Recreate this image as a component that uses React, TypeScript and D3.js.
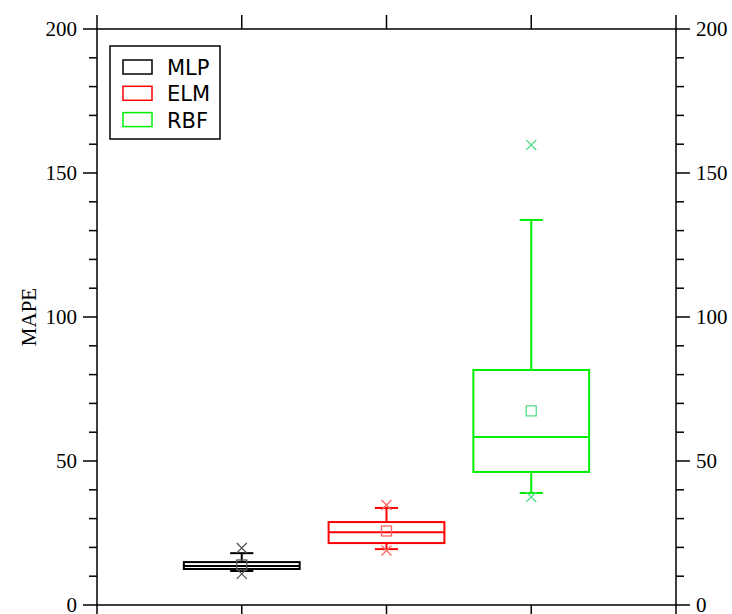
import React from "react";
import * as d3 from "d3";

const categories = ["MLP", "ELM", "RBF"];
const colors = ["#000000", "#ff0000", "#00ee00"];
const markColors = ["#555555", "#ff6666", "#55dd88"];
const q1 = [12.5, 21.5, 46.2];
const median = [13.5, 25.3, 58.3];
const q3 = [14.9, 28.8, 81.6];
const whiskerLow = [11.8, 19.4, 38.9];
const whiskerHigh = [18.0, 33.7, 133.7];
const meanVals = [13.9, 25.7, 67.4];
const minMarks = [10.8, 18.9, 37.5];
const maxMarks = [19.8, 34.7, 159.7];
const yTicks = [0, 50, 100, 150, 200];

const W = 732, H = 614;
const M = { left: 97, right: 676, top: 29, bottom: 605 };

export default function App() {
  const x = d3.scaleLinear().domain([0, 4]).range([M.left, M.right]);
  const y = d3.scaleLinear().domain([0, 200]).range([M.bottom, M.top]);
  const step = x(1) - x(0);
  const boxW = step * 0.8;
  const capW = step * 0.16;
  const minor = d3.range(0, 201, 10).filter((v) => v % 50 !== 0);
  const xt = [0, 1, 2, 3, 4];
  const serif = "'Liberation Serif', serif";
  const sans = "'DejaVu Sans', sans-serif";
  return (
    <svg width={W} height={H} style={{ position: "absolute", left: 0, top: 0, background: "#fff" }}>
      <rect x={M.left} y={M.top} width={M.right - M.left} height={M.bottom - M.top} fill="none" stroke="#000" strokeWidth={1.5} />
      {yTicks.map((t) => (
        <g key={"y" + t}>
          <line x1={M.left - 14} x2={M.left} y1={y(t)} y2={y(t)} stroke="#000" strokeWidth={1.5} />
          <line x1={M.right} x2={M.right + 14} y1={y(t)} y2={y(t)} stroke="#000" strokeWidth={1.5} />
          <text x={M.left - 20} y={y(t)} dy="0.35em" textAnchor="end" fontFamily={serif} fontSize={21}>{t}</text>
          <text x={M.right + 20} y={y(t)} dy="0.35em" textAnchor="start" fontFamily={serif} fontSize={21}>{t}</text>
        </g>
      ))}
      {minor.map((t) => (
        <g key={"m" + t}>
          <line x1={M.left - 8} x2={M.left} y1={y(t)} y2={y(t)} stroke="#000" strokeWidth={1.5} />
          <line x1={M.right} x2={M.right + 8} y1={y(t)} y2={y(t)} stroke="#000" strokeWidth={1.5} />
        </g>
      ))}
      {xt.map((t) => (
        <g key={"x" + t}>
          <line x1={x(t)} x2={x(t)} y1={M.top - 14} y2={M.top} stroke="#000" strokeWidth={1.5} />
          <line x1={x(t)} x2={x(t)} y1={M.bottom} y2={M.bottom + 14} stroke="#000" strokeWidth={1.5} />
        </g>
      ))}
      <text transform={`translate(36,${y(100)}) rotate(-90)`} textAnchor="middle" fontFamily={serif} fontSize={21}>MAPE</text>
      {categories.map((c, i) => {
        const cx = x(i + 1);
        const col = colors[i];
        const mc = markColors[i];
        const s = 5;
        return (
          <g key={c}>
            <line x1={cx} x2={cx} y1={y(q3[i])} y2={y(whiskerHigh[i])} stroke={col} strokeWidth={2} />
            <line x1={cx} x2={cx} y1={y(q1[i])} y2={y(whiskerLow[i])} stroke={col} strokeWidth={2} />
            <line x1={cx - capW / 2} x2={cx + capW / 2} y1={y(whiskerHigh[i])} y2={y(whiskerHigh[i])} stroke={col} strokeWidth={2} />
            <line x1={cx - capW / 2} x2={cx + capW / 2} y1={y(whiskerLow[i])} y2={y(whiskerLow[i])} stroke={col} strokeWidth={2} />
            <rect x={cx - boxW / 2} y={y(q3[i])} width={boxW} height={y(q1[i]) - y(q3[i])} fill="none" stroke={col} strokeWidth={2} />
            <line x1={cx - boxW / 2} x2={cx + boxW / 2} y1={y(median[i])} y2={y(median[i])} stroke={col} strokeWidth={2} />
            <rect x={cx - s} y={y(meanVals[i]) - s} width={2 * s} height={2 * s} fill="none" stroke={mc} strokeWidth={1.3} />
            {[minMarks[i], maxMarks[i]].map((v, k) => (
              <path key={k} d={`M${cx - s},${y(v) - s}L${cx + s},${y(v) + s}M${cx - s},${y(v) + s}L${cx + s},${y(v) - s}`} stroke={mc} strokeWidth={1.3} fill="none" />
            ))}
          </g>
        );
      })}
      <rect x={110} y={46} width={110} height={93} fill="#fff" stroke="#000" strokeWidth={1.5} />
      {categories.map((c, i) => (
        <g key={"l" + c}>
          <rect x={123} y={60 + i * 26.3} width={29} height={14} fill="none" stroke={colors[i]} strokeWidth={1.5} />
          <text x={167} y={75 + i * 26.3} fontFamily={sans} fontSize={21}>{c}</text>
        </g>
      ))}
    </svg>
  );
}
